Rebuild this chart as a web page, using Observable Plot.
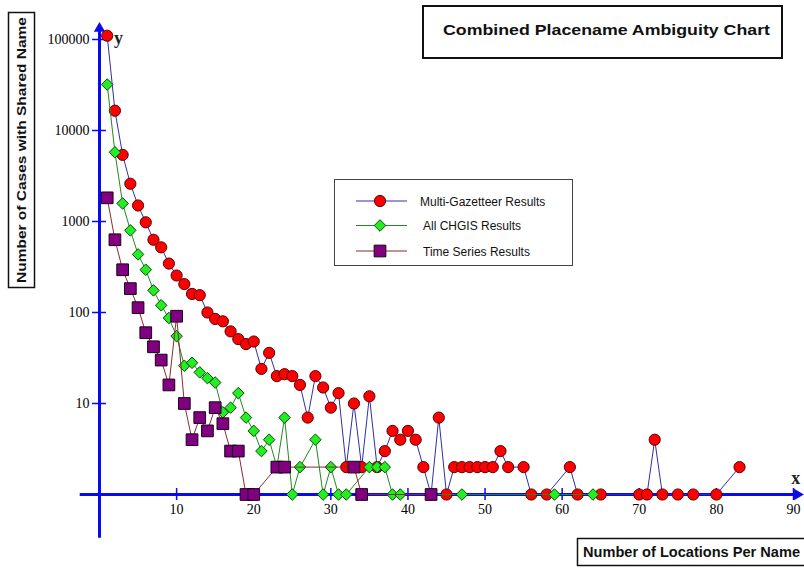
<!DOCTYPE html>
<html><head><meta charset="utf-8">
<script src="https://cdn.jsdelivr.net/npm/d3@7"></script>
<script src="https://cdn.jsdelivr.net/npm/@observablehq/plot@0.6"></script>
<style>body{margin:0;background:#fff;} #chart{width:804px;height:568px;}</style>
</head><body><div id="chart"></div>
<script>
// ---- data ----
const multiX = [1,2,3,4,5,6,7,8,9,10,11,12,13,14,15,16,17,18,19,20,21,22,23,24,25,26,27,28,29,30,31,32,33,34,35,36,37,38,39,40,41,42,43,44,45,46,47,48,49,50,51,52,53,55,56,58,61,62,65,70,71,72,73,75,77,80,83];
const multiY = [110000,16500,5400,2600,1500,980,630,520,345,255,205,160,155,100,85,80,62,51,45,48,24,36,20,21,20,16,7,20,15,9,13,2,10,2,12,2,3,5,4,5,4,2,1,7,1,2,2,2,2,2,2,3,2,2,1,1,2,1,1,1,1,4,1,1,1,1,2];
const chgisX = [1,2,3,4,5,6,7,8,9,10,11,12,13,14,15,16,17,18,19,20,21,22,23,24,25,26,28,29,30,31,32,35,36,37,38,39,47,59,64];
const chgisY = [32000,5760,1580,800,435,295,175,120,87,55,26,28,22,19,17,8,9,13,7,5,3,4,2,7,1,2,4,1,2,1,1,2,2,2,1,1,1,1,1];
const timeX = [1,2,3,4,5,6,7,8,9,10,11,12,13,14,15,16,17,18,19,20,23,24,33,34,43];
const timeY = [1820,630,295,183,113,60,42,30,16,91,10,4,7,5,9,6,3,3,1,1,2,2,2,1,1];
const seriesNames = ["Multi-Gazetteer Results", "All CHGIS Results", "Time Series Results"];
const xTicks = [10,20,30,40,50,60,70,80,90];
const yTicks = [10,100,1000,10000,100000];
const titleText = "Combined Placename Ambiguity Chart";
const xLabel = "Number of Locations Per Name";
const yLabel = "Number of Cases with Shared Name";

// ---- styles ----
const axisBlue = "#0a0aee";
const styles = [
  {line: "#2f2fa6", fill: "#ff0000", stroke: "#5a0000", symbol: "circle", r: 5.6},
  {line: "#1f8a1f", fill: "#22ee22", stroke: "#0a4a0a", symbol: "diamond2", r: 5.2},
  {line: "#8a2b2b", fill: "#800080", stroke: "#1a001a", symbol: "square", r: 6.6}
];
const rows = (xs, ys) => xs.map((x, i) => ({x, y: ys[i]}));
const series = [rows(multiX, multiY), rows(chgisX, chgisY), rows(timeX, timeY)];

const seriesMarks = series.flatMap((data, k) => [
  Plot.line(data, {x: "x", y: "y", stroke: styles[k].line, strokeWidth: 1}),
  Plot.dot(data, {x: "x", y: "y", symbol: styles[k].symbol, r: styles[k].r, fill: styles[k].fill, stroke: styles[k].stroke, strokeWidth: 1})
]);

const chart = Plot.plot({
  width: 804, height: 568,
  marginLeft: 99, marginRight: 11, marginTop: 39, marginBottom: 74,
  x: {domain: [0, 90], axis: null},
  y: {type: "log", domain: [1, 100000], axis: null},
  style: {background: "white", fontFamily: "'Liberation Serif', serif", fontSize: "14px", color: "black", overflow: "visible"},
  marks: [
    Plot.ruleY([1], {x1: -2.5, x2: 90.3, stroke: axisBlue, strokeWidth: 3}),
    Plot.ruleX([0], {y1: Math.pow(10, -0.48), y2: Math.pow(10, 5.1), stroke: axisBlue, strokeWidth: 3}),
    Plot.dot([0], {x: 90.5, y: 1, symbol: "triangle", rotate: 90, r: 4.2, fill: axisBlue, stroke: "none"}),
    Plot.dot([0], {x: 0, y: Math.pow(10, 5.12), symbol: "triangle", r: 4.2, fill: axisBlue, stroke: "none"}),
    Plot.ruleX(xTicks, {x: d => d, y1: 1, y2: 1, insetTop: -6, insetBottom: -6, stroke: axisBlue, strokeWidth: 1.5}),
    Plot.ruleY(yTicks, {y: d => d, x1: 0, x2: 0, insetLeft: -7, insetRight: -7, stroke: axisBlue, strokeWidth: 1.5}),
    Plot.text(xTicks, {x: d => d, y: 1, dy: 15, text: d => String(d), fill: "black"}),
    Plot.text(yTicks, {x: 0, y: d => d, dx: -10, textAnchor: "end", text: d => String(d), fill: "black"}),
    Plot.text(["y"], {x: 0, y: 100000, dx: 19, dy: -1, text: d => d, fontSize: 18, fontWeight: "bold", fill: "#222"}),
    Plot.text(["x"], {x: 90.3, y: 1, dy: -16, text: d => d, fontSize: 18, fontWeight: "bold", fill: "#222"}),
    ...seriesMarks
  ]
});
document.getElementById("chart").appendChild(chart);

// ---- decorations: title, axis label boxes, legend ----
const svg = d3.select(chart);
const sans = "'Liberation Sans', Arial, sans-serif";
const deco = svg.append("g").attr("text-anchor", "start");

deco.append("rect").attr("x", 423).attr("y", 6).attr("width", 359).attr("height", 52)
  .attr("fill", "white").attr("stroke", "#111").attr("stroke-width", 2);
deco.append("text").attr("x", 443).attr("y", 35).attr("text-anchor", "start").attr("font-family", sans).attr("font-size", 15.5)
  .attr("font-weight", "bold").attr("textLength", 327).attr("lengthAdjust", "spacingAndGlyphs").attr("fill", "#111").text(titleText);

deco.append("rect").attr("x", 8.5).attr("y", 12.5).attr("width", 26).attr("height", 275)
  .attr("fill", "white").attr("stroke", "#111").attr("stroke-width", 1.5);
deco.append("text").attr("transform", "translate(26,283) rotate(-90)").attr("text-anchor", "start").attr("font-family", sans)
  .attr("font-size", 13.5).attr("font-weight", "bold").attr("textLength", 266).attr("lengthAdjust", "spacingAndGlyphs")
  .attr("fill", "#111").text(yLabel);

deco.append("rect").attr("x", 577.5).attr("y", 538.5).attr("width", 240).attr("height", 27)
  .attr("fill", "white").attr("stroke", "#111").attr("stroke-width", 1.5);
deco.append("text").attr("x", 583).attr("y", 557).attr("text-anchor", "start").attr("font-family", sans)
  .attr("font-size", 14).attr("font-weight", "bold").attr("textLength", 217).attr("lengthAdjust", "spacingAndGlyphs")
  .attr("fill", "#111").text(xLabel);

const leg = deco.append("g");
leg.append("rect").attr("x", 334.5).attr("y", 179.5).attr("width", 238).attr("height", 86)
  .attr("fill", "white").attr("stroke", "#444").attr("stroke-width", 1);
const legY = [201, 225.5, 251];
seriesNames.forEach((name, k) => {
  const st = styles[k];
  leg.append("line").attr("x1", 356).attr("x2", 407).attr("y1", legY[k]).attr("y2", legY[k])
    .attr("stroke", st.line).attr("stroke-width", 1);
  const sym = st.symbol === "circle" ? d3.symbolCircle : st.symbol === "square" ? d3.symbolSquare : d3.symbolDiamond2;
  leg.append("path").attr("d", d3.symbol(sym, Math.PI * st.r * st.r)())
    .attr("transform", `translate(380,${legY[k]})`).attr("fill", st.fill).attr("stroke", st.stroke);
  leg.append("text").attr("x", k === 0 ? 420 : 423).attr("y", legY[k] + 4.5).attr("text-anchor", "start").attr("font-family", sans)
    .attr("font-size", 12).attr("fill", "#111").text(name);
});
</script>
</body></html>
